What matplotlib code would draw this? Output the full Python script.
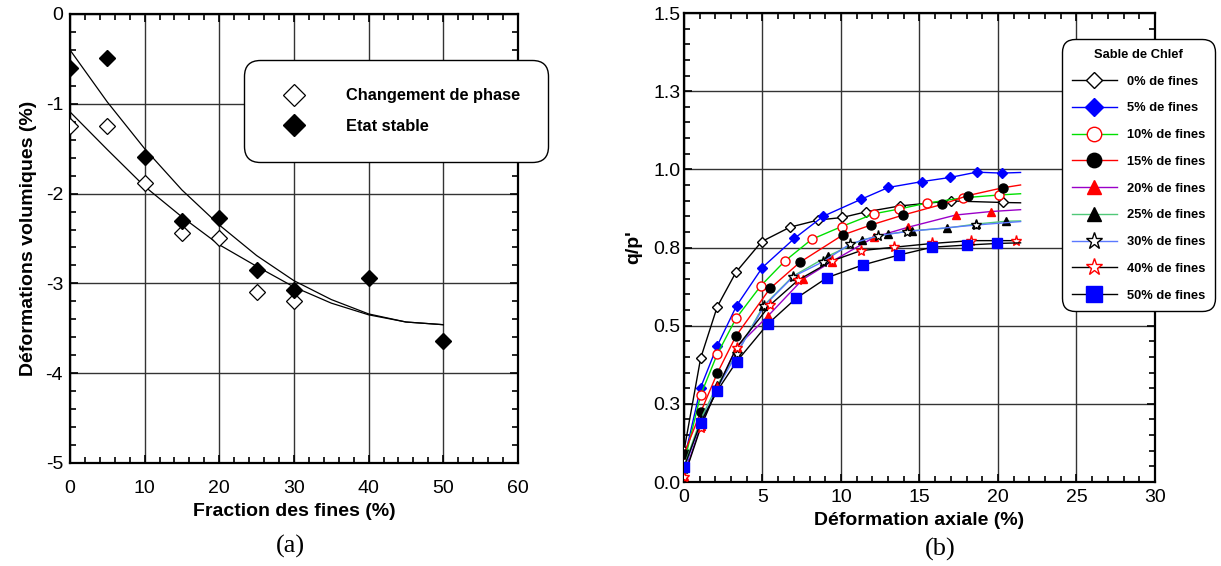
import numpy as np
import matplotlib.pyplot as plt
from matplotlib.ticker import MultipleLocator, FixedLocator

plt.rcParams['font.family'] = ['Liberation Sans', 'DejaVu Sans']
plt.rcParams['axes.unicode_minus'] = False

# ---------------- (a) volumetric strain vs fines content ----------------
fines_phase = [0, 5, 10, 15, 20, 25, 30]
ev_phase = [-1.25, -1.25, -1.88, -2.44, -2.49, -3.10, -3.20]

fines_stable = [0, 5, 10, 15, 20, 25, 30, 40, 50]
ev_stable = [-0.60, -0.49, -1.59, -2.31, -2.27, -2.85, -3.07, -2.94, -3.64]

# trend curves
fit_x = [0, 5, 10, 15, 20, 25, 30, 35, 40, 45, 50]
fit_stable = [-0.40, -0.98, -1.50, -1.96, -2.35, -2.69, -2.97, -3.18, -3.34, -3.43, -3.46]
fit_phase = [-1.09, -1.51, -1.92, -2.26, -2.57, -2.81, -3.04, -3.22, -3.35, -3.43, -3.46]

# ---------------- (b) stress ratio vs axial strain ----------------
eps_00 = [0, 1.06, 2.12, 3.31, 4.95, 6.75, 8.56, 10.08, 11.59, 13.76, 16.99, 20.30, 21.44]
q_00 = [0.10, 0.396, 0.561, 0.671, 0.769, 0.815, 0.838, 0.846, 0.864, 0.883, 0.899, 0.894, 0.893]
eps_05 = [0, 1.06, 2.12, 3.35, 4.99, 7.03, 8.87, 11.27, 13.01, 15.18, 16.94, 18.64, 20.23, 21.44]
q_05 = [0.07, 0.302, 0.436, 0.564, 0.686, 0.779, 0.850, 0.904, 0.942, 0.961, 0.974, 0.991, 0.988, 0.990]
eps_10 = [0, 1.06, 2.12, 3.31, 4.90, 6.43, 8.13, 10.04, 12.12, 13.69, 15.46, 17.79, 20.08, 21.44]
q_10 = [0.06, 0.278, 0.409, 0.523, 0.628, 0.707, 0.776, 0.817, 0.858, 0.873, 0.892, 0.909, 0.918, 0.922]
eps_15 = [0, 1.06, 2.12, 3.31, 5.48, 7.39, 10.11, 11.91, 13.97, 16.45, 18.07, 20.30, 21.44]
q_15 = [0.09, 0.223, 0.348, 0.467, 0.619, 0.703, 0.790, 0.822, 0.854, 0.888, 0.916, 0.941, 0.950]
eps_20 = [0, 1.06, 2.12, 3.35, 5.37, 7.56, 9.41, 12.12, 14.29, 17.32, 19.53, 21.44]
q_20 = [0.02, 0.18, 0.30, 0.431, 0.532, 0.648, 0.705, 0.783, 0.815, 0.854, 0.865, 0.871]
eps_25 = [0, 1.06, 2.12, 3.35, 5.05, 6.96, 9.19, 11.32, 13.01, 14.54, 16.73, 18.60, 20.51, 21.44]
q_25 = [0.05, 0.20, 0.31, 0.41, 0.563, 0.659, 0.723, 0.774, 0.793, 0.804, 0.812, 0.825, 0.834, 0.835]
eps_30 = [0, 1.06, 2.12, 3.35, 5.12, 6.96, 8.87, 10.57, 12.38, 14.18, 18.60, 21.44]
q_30 = [0.04, 0.19, 0.30, 0.409, 0.564, 0.657, 0.705, 0.761, 0.788, 0.801, 0.822, 0.833]
eps_40 = [0, 1.06, 2.12, 3.35, 5.48, 7.28, 9.41, 11.27, 13.40, 15.82, 18.28, 21.15]
q_40 = [0.015, 0.174, 0.30, 0.43, 0.566, 0.646, 0.707, 0.740, 0.751, 0.763, 0.772, 0.772]
eps_50 = [0, 1.06, 2.12, 3.35, 5.33, 7.13, 9.13, 11.38, 13.69, 15.82, 18.05, 19.96, 21.44]
q_50 = [0.047, 0.19, 0.292, 0.385, 0.505, 0.587, 0.654, 0.694, 0.726, 0.751, 0.758, 0.763, 0.765]

labels_b = ['0% de fines', '5% de fines', '10% de fines', '15% de fines', '20% de fines',
            '25% de fines', '30% de fines', '40% de fines', '50% de fines']
yticks_b = [0.0, 0.25, 0.5, 0.75, 1.0, 1.25, 1.5]
ytick_labels_b = ['0.0', '0.3', '0.5', '0.8', '1.0', '1.3', '1.5']

# line colour, marker, marker face, marker edge, marker size, last point marked
styles_b = [
    ('black', 'D', 'white', 'black', 5.0, False),
    ('#0000ff', 'D', '#0000ff', '#0000ff', 5.5, False),
    ('#00e000', 'o', 'white', '#ff0000', 6.5, False),
    ('#ff0000', 'o', 'black', 'black', 6.5, False),
    ('#9a00c8', '^', '#ff0000', '#ff0000', 6, False),
    ('#50c878', '^', 'black', 'black', 6, False),
    ('#5a78ff', '*', 'white', 'black', 8, False),
    ('black', '*', 'white', '#ff0000', 8, True),
    ('black', 's', '#0000ff', '#0000ff', 7, False),
]
series_b = [(eps_00, q_00), (eps_05, q_05), (eps_10, q_10), (eps_15, q_15), (eps_20, q_20),
            (eps_25, q_25), (eps_30, q_30), (eps_40, q_40), (eps_50, q_50)]


def style_axes(ax, xpad, ypad):
    ax.tick_params(which='both', direction='in', top=True, right=True,
                   labelsize=14, width=1.2)
    ax.tick_params(axis='x', which='major', pad=xpad)
    ax.tick_params(axis='y', which='major', pad=ypad)
    ax.tick_params(which='major', length=6)
    ax.tick_params(which='minor', length=4)
    ax.grid(True, which='major', color='#333333', linewidth=1.0)
    for sp in ax.spines.values():
        sp.set_linewidth(1.6)
    ax.set_axisbelow(True)


fig = plt.figure(figsize=(12.21, 5.66), dpi=100)
ax1 = fig.add_axes([0.0573, 0.182, 0.3669, 0.7933])
ax2 = fig.add_axes([0.5602, 0.1484, 0.3857, 0.8286])

# ---- panel (a)
ax1.plot(fit_x, fit_stable, color='black', linewidth=0.9, zorder=2)
ax1.plot(fit_x, fit_phase, color='black', linewidth=0.9, zorder=2)
ax1.plot(fines_phase, ev_phase, linestyle='none', marker='D', markersize=8,
         markerfacecolor='white', markeredgecolor='black', markeredgewidth=0.9,
         label='Changement de phase', zorder=3)
ax1.plot(fines_stable, ev_stable, linestyle='none', marker='D', markersize=8,
         markerfacecolor='black', markeredgecolor='black',
         label='Etat stable', zorder=3)
ax1.set_xlim(0, 60)
ax1.set_ylim(-5, 0)
ax1.xaxis.set_major_locator(MultipleLocator(10))
ax1.xaxis.set_minor_locator(MultipleLocator(2))
ax1.yaxis.set_major_locator(MultipleLocator(1))
ax1.yaxis.set_minor_locator(MultipleLocator(0.2))
style_axes(ax1, xpad=12.5, ypad=5)
ax1.set_xlabel('Fraction des fines (%)', fontsize=14, fontweight='bold', labelpad=4)
ax1.set_ylabel('Déformations volumiques (%)', fontsize=14, fontweight='bold', labelpad=6)

leg1 = ax1.legend(loc='upper left', bbox_to_anchor=(0.388, 0.898 - 0.229, 0.679, 0.229),
                  mode='expand', prop={'weight': 'bold', 'size': 11.8},
                  borderpad=1.75, labelspacing=0.93, handlelength=2.68, handletextpad=1.83,
                  markerscale=1.35, frameon=True, fancybox=True, borderaxespad=0)
fr = leg1.get_frame()
fr.set_edgecolor('black')
fr.set_linewidth(1.0)
fr.set_alpha(1)
fr.set_boxstyle('round,pad=0,rounding_size=1.0')

# ---- panel (b)
handles = []
for (xs, ys), lab, st in zip(series_b, labels_b, styles_b):
    lc, mk, mfc, mec, ms, end_marked = st
    n = len(xs)
    mevery = slice(0, n) if end_marked else slice(0, n - 1)
    h, = ax2.plot(xs, ys, color=lc, linewidth=1.0, marker=mk, markersize=ms,
                  markerfacecolor=mfc, markeredgecolor=mec, markeredgewidth=1.0,
                  markevery=mevery, label=lab, zorder=3)
    handles.append(h)

ax2.set_xlim(0, 30)
ax2.set_ylim(0, 1.5)
ax2.xaxis.set_major_locator(MultipleLocator(5))
ax2.xaxis.set_minor_locator(MultipleLocator(1))
ax2.yaxis.set_major_locator(FixedLocator(yticks_b))
ax2.set_yticklabels(ytick_labels_b)
ax2.yaxis.set_minor_locator(MultipleLocator(0.05))
style_axes(ax2, xpad=5, ypad=2.5)
ax2.set_xlabel('Déformation axiale (%)', fontsize=14, fontweight='bold', labelpad=4)
ax2.set_ylabel("q/p'", fontsize=14, fontweight='bold', labelpad=8)

leg2 = ax2.legend(handles=handles, loc='upper left', bbox_to_anchor=(0.8025, 0.9445),
                  title='Sable de Chlef', title_fontproperties={'weight': 'bold', 'size': 9.3},
                  prop={'weight': 'bold', 'size': 9.3}, borderpad=0.75, labelspacing=1.14,
                  handlelength=3.5, handletextpad=0.8, markerscale=1.6,
                  frameon=True, fancybox=True, borderaxespad=0)
fr2 = leg2.get_frame()
fr2.set_edgecolor('black')
fr2.set_linewidth(1.0)
fr2.set_alpha(1)
fr2.set_boxstyle('round,pad=0,rounding_size=1.0')

fig.text(0.2375, 0.034, '(a)', fontsize=19, family='Liberation Serif', ha='center', va='center')
fig.text(0.770, 0.030, '(b)', fontsize=19, family='Liberation Serif', ha='center', va='center')

fig.savefig('out.png', dpi=100)
